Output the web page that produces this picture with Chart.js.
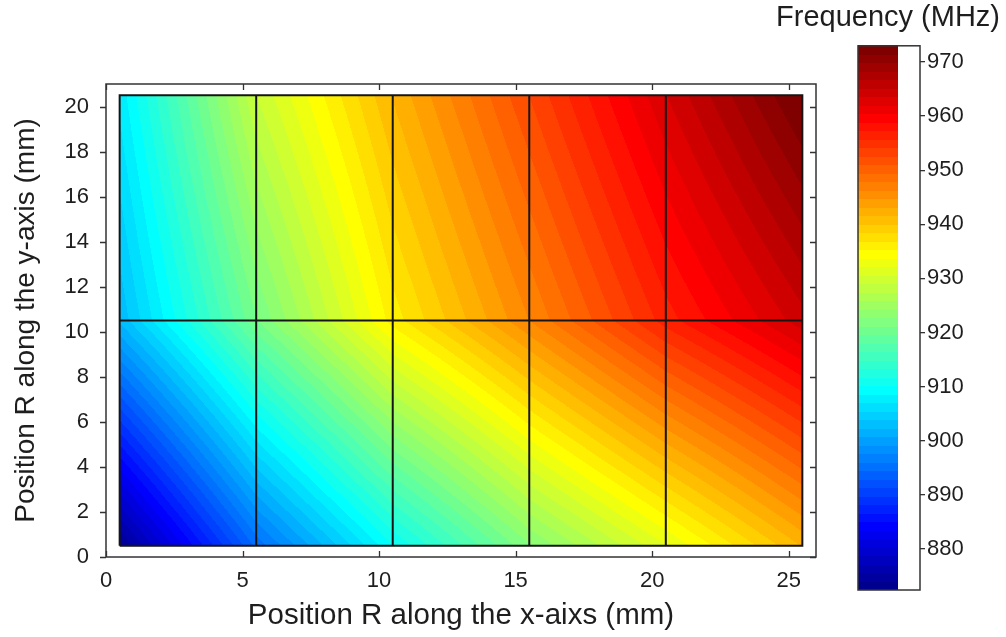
<!DOCTYPE html>
<html><head><meta charset="utf-8">
<script src="https://cdn.jsdelivr.net/npm/chart.js@4.4.1/dist/chart.umd.min.js"></script>
<style>
html,body{margin:0;padding:0;background:#fff;}
#wrap{position:relative;width:1006px;height:637px;overflow:hidden;}
#main{position:absolute;left:0;top:0;}
#cbar{position:absolute;left:770px;top:0;}
</style></head><body>
<div id="wrap">
<canvas id="main" width="1006" height="637"></canvas>
<canvas id="cbar" width="236" height="637"></canvas>
</div>
<script>
// ---- data ----
const xNodes = [0.5, 5.5, 10.5, 15.5, 20.5, 25.5];          // mm, cell edges along x
const yNodes = [0.5, 10.5, 20.5];                            // mm, cell edges along y
const freqAtY0_5  = [873.5, 894.8, 910.0, 922.5, 932.0, 941.7]; // MHz at y = 0.5
const freqAtY10_5 = [902.6, 921.0, 936.0, 946.3, 956.5, 964.5]; // MHz at y = 10.5
const freqAtY20_5 = [907.5, 929.0, 941.7, 952.6, 963.5, 973.5]; // MHz at y = 20.5
const xTicks = [0, 5, 10, 15, 20, 25];
const yTicks = [0, 2, 4, 6, 8, 10, 12, 14, 16, 18, 20];
const cbarTicks = [880, 890, 900, 910, 920, 930, 940, 950, 960, 970];
const colorLimits = [872.4, 973.0];
const nLevels = 64;

const xTitle = 'Position R along the x-aixs (mm)';
const yTitle = 'Position R along the y-axis (mm)';
const cbarTitle = 'Frequency (MHz)';

// ---- helpers ----
const rows = [freqAtY0_5, freqAtY10_5, freqAtY20_5];
function jetMap(m) {
  const n = Math.ceil(m / 4);
  const u = [];
  for (let k = 1; k <= n; k++) u.push(k / n);
  for (let k = 0; k < n - 1; k++) u.push(1);
  for (let k = n; k >= 1; k--) u.push(k / n);
  const g0 = Math.ceil(n / 2) - (m % 4 === 1 ? 1 : 0);
  const J = [];
  for (let i = 0; i < m; i++) J.push([0, 0, 0]);
  for (let i = 0; i < u.length; i++) {
    const g = g0 + i + 1, r = g + n, b = g - n;
    if (r >= 1 && r <= m) J[r - 1][0] = u[i];
    if (g >= 1 && g <= m) J[g - 1][1] = u[i];
    if (b >= 1 && b <= m) J[b - 1][2] = u[i];
  }
  return J.map(c => c.map(v => Math.round(v * 255)));
}
const JET = jetMap(nLevels);
function findCell(arr, v) {
  for (let i = 0; i < arr.length - 1; i++) if (v <= arr[i + 1]) return i;
  return arr.length - 2;
}
function field(xv, yv) {
  const i = findCell(xNodes, xv), j = findCell(yNodes, yv);
  const tx = (xv - xNodes[i]) / (xNodes[i + 1] - xNodes[i]);
  const ty = (yv - yNodes[j]) / (yNodes[j + 1] - yNodes[j]);
  const a = rows[j][i], b = rows[j][i + 1], c = rows[j + 1][i], d = rows[j + 1][i + 1];
  return (a * (1 - tx) + b * tx) * (1 - ty) + (c * (1 - tx) + d * tx) * ty;
}
function levelOf(v) {
  let k = Math.floor((v - colorLimits[0]) / (colorLimits[1] - colorLimits[0]) * nLevels);
  return Math.max(0, Math.min(nLevels - 1, k));
}

Chart.defaults.font.family = '"Liberation Sans", Arial, Helvetica, sans-serif';
Chart.defaults.color = '#1e1e1e';

// heat map drawn through the chart scales
const heatPlugin = {
  id: 'heat',
  beforeDatasetsDraw(chart) {
    const {ctx, scales: {x, y}} = chart;
    const px0 = Math.round(x.getPixelForValue(xNodes[0]));
    const px1 = Math.round(x.getPixelForValue(xNodes[xNodes.length - 1]));
    const py0 = Math.round(y.getPixelForValue(yNodes[yNodes.length - 1]));
    const py1 = Math.round(y.getPixelForValue(yNodes[0]));
    const w = px1 - px0, h = py1 - py0;
    const img = ctx.createImageData(w, h);
    for (let j = 0; j < h; j++) {
      const yv = y.getValueForPixel(py0 + j + 0.5);
      for (let i = 0; i < w; i++) {
        const xv = x.getValueForPixel(px0 + i + 0.5);
        const c = JET[levelOf(field(xv, yv))];
        const p = (j * w + i) * 4;
        img.data[p] = c[0]; img.data[p + 1] = c[1]; img.data[p + 2] = c[2]; img.data[p + 3] = 255;
      }
    }
    ctx.putImageData(img, px0, py0);
  }
};

// axes box with ticks
const boxPlugin = {
  id: 'box',
  afterDraw(chart) {
    const {ctx, chartArea: a, scales: {x, y}} = chart;
    ctx.save();
    ctx.strokeStyle = '#333';
    ctx.lineWidth = 1.5;
    ctx.strokeRect(a.left, a.top, a.right - a.left, a.bottom - a.top);
    ctx.lineWidth = 1.3;
    ctx.beginPath();
    const L = 6;
    xTicks.forEach(v => {
      const px = Math.round(x.getPixelForValue(v)) + 0.5;
      ctx.moveTo(px, a.bottom); ctx.lineTo(px, a.bottom - L);
      ctx.moveTo(px, a.top); ctx.lineTo(px, a.top + L);
    });
    yTicks.forEach(v => {
      const py = Math.round(y.getPixelForValue(v)) + 0.5;
      ctx.moveTo(a.left, py); ctx.lineTo(a.left - L, py);
      ctx.moveTo(a.right, py); ctx.lineTo(a.right - L, py);
    });
    ctx.stroke();
    ctx.restore();
  }
};

const gridDatasets = [];
xNodes.slice(1, -1).forEach(xv => gridDatasets.push({
  data: [{x: xv, y: yNodes[0]}, {x: xv, y: yNodes[yNodes.length - 1]}]
}));
yNodes.slice(1, -1).forEach(yv => gridDatasets.push({
  data: [{x: xNodes[0], y: yv}, {x: xNodes[xNodes.length - 1], y: yv}]
}));
gridDatasets.push({
  data: [
    {x: xNodes[0], y: yNodes[0]}, {x: xNodes[xNodes.length - 1], y: yNodes[0]},
    {x: xNodes[xNodes.length - 1], y: yNodes[yNodes.length - 1]}, {x: xNodes[0], y: yNodes[yNodes.length - 1]},
    {x: xNodes[0], y: yNodes[0]}
  ]
});
gridDatasets.forEach(d => Object.assign(d, {
  showLine: true, borderColor: '#151515', borderWidth: 2, pointRadius: 0, fill: false
}));

new Chart(document.getElementById('main'), {
  type: 'scatter',
  data: {datasets: gridDatasets},
  plugins: [heatPlugin, boxPlugin],
  options: {
    responsive: false,
    animation: false,
    devicePixelRatio: 1,
    layout: {padding: {top: 84, right: 190, left: 0, bottom: 0}},
    plugins: {legend: {display: false}, tooltip: {enabled: false}},
    scales: {
      x: {
        type: 'linear', min: 0, max: 26,
        afterBuildTicks: s => { s.ticks = xTicks.map(v => ({value: v})); },
        afterFit: s => { s.height = 80; },
        grid: {display: false}, border: {display: false},
        ticks: {font: {size: 22}, padding: 3, maxRotation: 0},
        title: {display: true, text: xTitle, font: {size: 29.5}, padding: {top: 0, bottom: 3}}
      },
      y: {
        type: 'linear', min: 0, max: 21,
        afterBuildTicks: s => { s.ticks = yTicks.map(v => ({value: v})); },
        afterFit: s => { s.width = 106; },
        grid: {display: false}, border: {display: false},
        ticks: {font: {size: 22}, padding: 9},
        title: {display: true, text: yTitle, font: {size: 28}, padding: {top: 9, bottom: 0}}
      }
    }
  }
});

// colour bar
const cbarPlugin = {
  id: 'cbarFill',
  afterDraw(chart) {
    const {ctx, chartArea: a, scales: {y}} = chart;
    const boxLeft = a.right - 62, fillRight = a.right - 22;
    const step = (colorLimits[1] - colorLimits[0]) / nLevels;
    ctx.save();
    for (let k = 0; k < nLevels; k++) {
      const v0 = colorLimits[0] + k * step, v1 = v0 + step;
      const yTop = y.getPixelForValue(v1), yBot = y.getPixelForValue(v0);
      const c = JET[k];
      ctx.fillStyle = `rgb(${c[0]},${c[1]},${c[2]})`;
      ctx.fillRect(boxLeft, Math.floor(yTop), fillRight - boxLeft, Math.ceil(yBot) - Math.floor(yTop));
    }
    ctx.strokeStyle = '#333';
    ctx.lineWidth = 1.5;
    ctx.strokeRect(boxLeft, a.top, a.right - boxLeft, a.bottom - a.top);
    ctx.restore();
  }
};

new Chart(document.getElementById('cbar'), {
  type: 'scatter',
  data: {datasets: []},
  plugins: [cbarPlugin],
  options: {
    responsive: false,
    animation: false,
    devicePixelRatio: 1,
    layout: {padding: {top: 0, right: 0, left: 0, bottom: 47}},
    plugins: {
      legend: {display: false}, tooltip: {enabled: false},
      title: {display: true, text: cbarTitle, font: {size: 29, weight: 'normal'}, color: '#1e1e1e', padding: {top: 1, bottom: 10}}
    },
    scales: {
      x: {display: false, min: 0, max: 1},
      y: {
        position: 'right', min: colorLimits[0], max: colorLimits[1],
        afterBuildTicks: s => { s.ticks = cbarTicks.map(v => ({value: v})); },
        afterFit: s => { s.width = 86; },
        grid: {display: true, drawOnChartArea: false, drawTicks: true, tickLength: 5, color: '#333', lineWidth: 1.3},
        border: {display: false},
        ticks: {font: {size: 22}, padding: 2}
      }
    }
  }
});
</script>
</body></html>
